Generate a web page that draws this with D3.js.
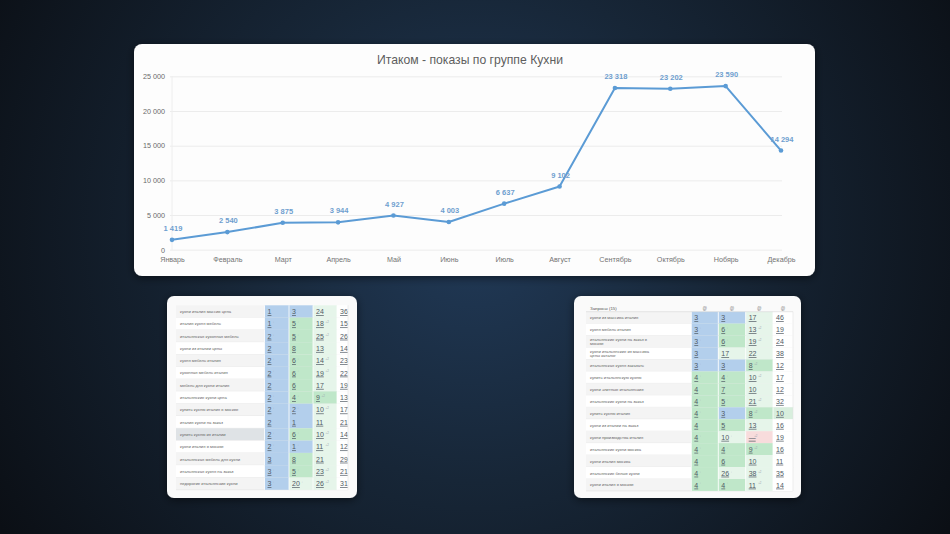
<!DOCTYPE html>
<html><head><meta charset="utf-8">
<script src="https://cdn.jsdelivr.net/npm/d3@7"></script>
<style>
html,body{margin:0;padding:0;background:#0e131b;overflow:hidden}
svg{display:block}
</style></head>
<body>
<svg id="c" width="950" height="534"></svg>
<script>
// ---------- data ----------
const chartTitle = "Итаком - показы по группе Кухни";
const months = ["Январь","Февраль","Март","Апрель","Май","Июнь","Июль","Август","Сентябрь","Октябрь","Нобярь","Декабрь"];
const impressions = [1419, 2540, 3875, 3944, 4927, 4003, 6637, 9102, 23318, 23202, 23590, 14294];
const yTicks = [0, 5000, 10000, 15000, 20000, 25000];

const leftQueries = [
  "кухни италия массив цена","италия кухня мебель","итальянская кухонная мебель",
  "кухни из италии цены","кухня мебель италия","кухонная мебель италия",
  "мебель для кухни италия","итальянские кухни цена","купить кухню италия в москве",
  "италия кухни на заказ","купить кухню из италии","кухни италия в москве",
  "итальянская мебель для кухни","итальянская кухня на заказ","недорогие итальянские кухни"
];
const leftPos1 = [1,1,2,2,2,2,2,2,2,2,2,2,3,3,3];
const leftPos2 = [3,5,5,8,6,6,6,4,2,1,6,1,8,5,20];
const leftPos3 = [24,18,25,13,14,19,17,9,10,11,10,11,21,23,26];
const leftPos4 = [36,15,26,14,23,22,19,13,17,21,14,12,29,21,31];

const rightHeader = "Запросы (15)";
const rightQueries = [
  "кухни из массива италия","кухня мебель италия","итальянские кухни на заказ в|москве",
  "кухни итальянские из массива|цены каталог","итальянская кухня заказать","купить итальянскую кухню",
  "кухни элитные итальянские","итальянские кухни на заказ","купить кухню италия",
  "кухни из италии на заказ","кухни производства италия","итальянские кухни москва",
  "кухни италия москва","итальянские белые кухни","кухни италия в москве"
];
const rightPos1 = [3,3,3,3,3,4,4,4,4,4,4,4,4,4,4];
const rightPos2 = [3,6,6,17,3,4,7,5,3,5,10,4,6,26,4];
const rightPos3 = [17,13,19,22,8,10,10,21,8,13,null,9,10,38,11];
const rightPos4 = [46,19,24,38,12,17,12,32,10,16,19,16,11,35,14];

// ---------- drawing ----------
const svg = d3.select("#c");
const defs = svg.append("defs");
const rg = defs.append("radialGradient").attr("id","bg")
  .attr("cx",475).attr("cy",230).attr("r",560).attr("gradientUnits","userSpaceOnUse");
rg.append("stop").attr("offset","0%").attr("stop-color","#213a58");
rg.append("stop").attr("offset","45%").attr("stop-color","#172637");
rg.append("stop").attr("offset","100%").attr("stop-color","#0b0f15");
svg.append("rect").attr("width",950).attr("height",534).attr("fill","url(#bg)");

const sh = defs.append("filter").attr("id","sh").attr("x","-10%").attr("y","-10%").attr("width","120%").attr("height","130%");
sh.append("feDropShadow").attr("dx",0).attr("dy",2).attr("stdDeviation",4).attr("flood-color","#000").attr("flood-opacity",0.5);

// main card
svg.append("rect").attr("x",134).attr("y",44).attr("width",681).attr("height",232)
  .attr("rx",8).attr("fill","#fdfdfd").attr("filter","url(#sh)");

svg.append("text").attr("x",470).attr("y",63.5).attr("text-anchor","middle")
  .attr("font-family","Liberation Sans, Arial, sans-serif").attr("font-size",12.2)
  .attr("fill","#5e5e5e").text(chartTitle);

const x = d3.scalePoint().domain(months).range([172, 781]);
const y = d3.scaleLinear().domain([0, 25000]).range([249.7, 76.3]);
const fmt = v => d3.format(",")(v).replace(/,/g, " ");

// grid
const gy = svg.append("g").attr("transform","translate(170,0)")
  .call(d3.axisLeft(y).tickValues(yTicks).tickSize(-612).tickFormat(fmt).tickPadding(5));
gy.select(".domain").remove();
gy.selectAll(".tick line").attr("stroke","#ececec").attr("stroke-width",1);
gy.selectAll(".tick text").attr("fill","#6a6a6a").attr("font-size",7.2)
  .attr("font-family","Liberation Sans, Arial, sans-serif");
svg.append("line").attr("x1",172).attr("x2",172).attr("y1",76).attr("y2",250).attr("stroke","#eeeeee");

const gx = svg.append("g").attr("transform","translate(0,249.7)")
  .call(d3.axisBottom(x).tickSize(0).tickPadding(7));
gx.select(".domain").remove();
gx.selectAll(".tick text").attr("fill","#747474").attr("font-size",7.2)
  .attr("font-family","Liberation Sans, Arial, sans-serif");

const pts = months.map((m,i)=>({m, v:impressions[i]}));
svg.append("path").datum(pts)
  .attr("d", d3.line().x(d=>x(d.m)).y(d=>y(d.v)))
  .attr("fill","none").attr("stroke","#5b9bd5").attr("stroke-width",2).attr("stroke-linejoin","round");
svg.selectAll("circle.pt").data(pts).join("circle").attr("class","pt")
  .attr("cx",d=>x(d.m)).attr("cy",d=>y(d.v)).attr("r",2.3).attr("fill","#5b9bd5");
svg.selectAll("text.lbl").data(pts).join("text").attr("class","lbl")
  .attr("x",d=>x(d.m)+1).attr("y",d=>y(d.v)-9).attr("text-anchor","middle")
  .attr("font-family","Liberation Sans, Arial, sans-serif").attr("font-size",7.5).attr("font-weight","bold")
  .attr("fill","#6f9fcf").text(d=>fmt(d.v));

// ---------- tables ----------
function cellColor(v, col){
  if (col === 3) return "#ffffff";
  if (v === null) return "#f8dcdc";
  if (v <= 3) return "#b3cfec";
  if (v <= 9) return "#bfe7c9";
  return "#e6f5ea";
}

function drawTable(o){
  const g = svg.append("g");
  g.append("rect").attr("x",o.cx).attr("y",o.cy).attr("width",o.cw).attr("height",o.ch)
    .attr("rx",7).attr("fill","#fafafa").attr("filter","url(#sh)");
  const n = o.queries.length;
  const cols = [o.p1,o.p2,o.p3,o.p4];
  for (let i=0;i<n;i++){
    const ry = o.y0 + i*o.rh;
    const rowFill = (i%2===0) ? "#f4f4f4" : "#ffffff";
    g.append("rect").attr("x",o.tx).attr("y",ry).attr("width",o.colX[0]-o.tx).attr("height",o.rh)
      .attr("fill", (o.hl===i) ? "#dfe3e6" : rowFill);
    g.append("line").attr("x1",o.tx).attr("x2",o.colX[4]).attr("y1",ry+o.rh).attr("y2",ry+o.rh)
      .attr("stroke","#e2e2e2").attr("stroke-width",0.6);
    const parts = o.queries[i].split("|");
    parts.forEach((p,k)=>{
      g.append("text").attr("x",o.tx+4).attr("y",ry+o.rh/2+1.5+(k-(parts.length-1)/2)*4.5)
        .attr("font-family","Liberation Sans, Arial, sans-serif").attr("font-size",4.2)
        .attr("fill","#666").text(p);
    });
    for (let c=0;c<4;c++){
      const v = cols[c][i];
      let fill = cellColor(v,c);
      if (o.special && o.special[0]===i && o.special[1]===c) fill = "#d8eedd";
      g.append("rect").attr("x",o.colX[c]).attr("y",ry).attr("width",o.colX[c+1]-o.colX[c]).attr("height",o.rh)
        .attr("fill",fill);
      g.append("line").attr("x1",o.colX[c]).attr("x2",o.colX[c]).attr("y1",ry).attr("y2",ry+o.rh)
        .attr("stroke","#ffffff").attr("stroke-width",0.8);
      g.append("text").attr("x",o.colX[c]+3).attr("y",ry+o.rh/2+2.6)
        .attr("font-family","Liberation Sans, Arial, sans-serif").attr("font-size",7)
        .attr("fill","#505a64").attr("text-decoration","underline")
        .text(v===null ? "—" : v);
      if (c < 3 && i % 3 !== 0){
        g.append("text").attr("x",o.colX[c]+3+String(v===null?"—":v).length*4+1.5).attr("y",ry+o.rh/2-0.5)
          .attr("font-family","Liberation Sans, Arial, sans-serif").attr("font-size",2.8)
          .attr("fill","#9aa4ad").text(c===2 ? "+2" : "↑");
      }
    }
    g.append("line").attr("x1",o.colX[4]).attr("x2",o.colX[4]).attr("y1",ry).attr("y2",ry+o.rh)
      .attr("stroke","#e2e2e2").attr("stroke-width",0.6);
  }
  if (o.header){
    const hy = o.y0 - o.hh;
    g.append("text").attr("x",o.tx+4).attr("y",hy+o.hh-2)
      .attr("font-family","Liberation Sans, Arial, sans-serif").attr("font-size",4.4)
      .attr("fill","#555").text(o.header);
    for (let c=0;c<4;c++){
      g.append("text").attr("x",(o.colX[c]+o.colX[c+1])/2).attr("y",hy+o.hh-1.5).attr("text-anchor","middle")
        .attr("font-family","Liberation Sans, Arial, sans-serif").attr("font-size",4.5)
        .attr("fill","#888").text("@");
    }
    g.append("line").attr("x1",o.tx).attr("x2",o.colX[4]).attr("y1",o.y0).attr("y2",o.y0)
      .attr("stroke","#d8d8d8").attr("stroke-width",0.6);
  }
}

drawTable({cx:167, cy:296, cw:190, ch:202, tx:176, y0:305.3, rh:12.3,
  colX:[264.5, 289, 313, 337, 348],
  queries:leftQueries, p1:leftPos1, p2:leftPos2, p3:leftPos3, p4:leftPos4, hl:10});

drawTable({cx:574, cy:296, cw:227, ch:202, tx:586, y0:311.7, rh:11.95, hh:7.5,
  colX:[691.3, 718.3, 745.7, 773, 793],
  queries:rightQueries, p1:rightPos1, p2:rightPos2, p3:rightPos3, p4:rightPos4,
  header:rightHeader, special:[8,3]});
</script>
</body></html>
